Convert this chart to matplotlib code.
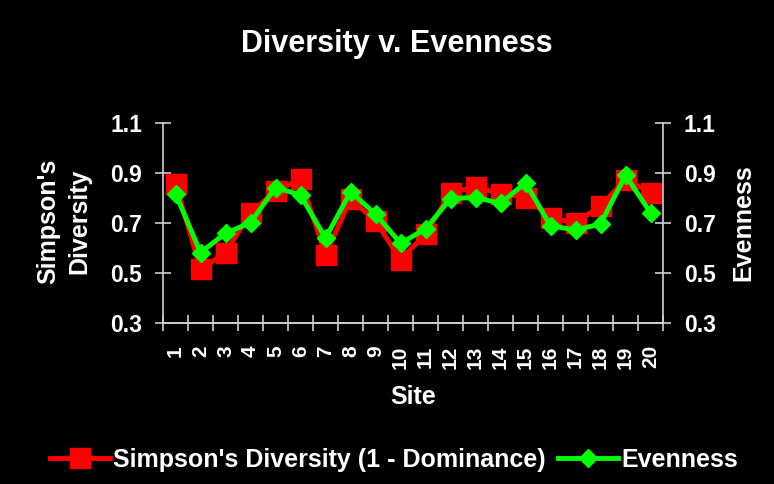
import matplotlib
matplotlib.use("Agg")
import matplotlib.pyplot as plt
from matplotlib.lines import Line2D

plt.rcParams['font.family'] = ['Liberation Sans', 'DejaVu Sans']
plt.rcParams['font.weight'] = 'bold'

sites = [str(i) for i in range(1, 21)]
simpson = [0.858, 0.515, 0.582, 0.741, 0.828, 0.877, 0.572, 0.795, 0.708, 0.553,
           0.656, 0.821, 0.845, 0.818, 0.802, 0.721, 0.701, 0.768, 0.874, 0.821]
evenness = [0.818, 0.582, 0.659, 0.701, 0.842, 0.812, 0.639, 0.825, 0.736, 0.619,
            0.676, 0.798, 0.802, 0.779, 0.861, 0.689, 0.672, 0.696, 0.891, 0.741]
y_ticks = [0.3, 0.5, 0.7, 0.9, 1.1]

axis_col = '#d0d0d0'
fig = plt.figure(figsize=(7.74, 4.84), dpi=100, facecolor='black')
ax = fig.add_axes([163/774, 1-323/484, 500/774, 200/484])
ax.set_facecolor('black')
ax2 = ax.twinx()

x = list(range(1, len(sites) + 1))
ax.plot(x, simpson, color='#ff0000', lw=3.5, marker='s', ms=14.5, mec='#ff0000', zorder=3)
ax2.plot(x, evenness, color='#00ff00', lw=3.5, marker='D', ms=9.5, mec='#00ff00', zorder=4)

for a in (ax, ax2):
    a.set_ylim(0.3, 1.1)
    a.set_yticks(y_ticks)
    a.set_yticklabels([f"{v:.1f}" for v in y_ticks])
    a.set_xlim(0.5, len(sites) + 0.5)
    for s in a.spines.values():
        s.set_color(axis_col)
        s.set_linewidth(1.2)
    a.spines['top'].set_visible(False)
ax.spines['right'].set_visible(False)
ax2.spines['left'].set_visible(False)

ax.tick_params(axis='y', direction='inout', length=11, width=1.2, color=axis_col,
               labelcolor='white', labelsize=16.5, pad=9.5)
ax2.tick_params(axis='y', direction='inout', length=11, width=1.2, color=axis_col,
                labelcolor='white', labelsize=16.5, pad=9.5)

ax.set_xticks(x)
ax.set_xticklabels(sites, rotation=90, va='top', ha='center')
ax.set_xticks([i + 0.5 for i in range(0, len(sites) + 1)], minor=True)
ax.tick_params(axis='x', which='major', length=0, labelcolor='white', labelsize=15, pad=16)
ax.tick_params(axis='x', which='minor', direction='inout', length=11, width=1.2, color=axis_col)

fig.text(397/774, 1-44/484, 'Diversity v. Evenness', color='white', fontsize=22,
         fontweight='bold', ha='center', va='center')
fig.text(413/774, 1-397/484, 'Site', color='white', fontsize=18, fontweight='bold',
         ha='center', va='center')
fig.text(64/774, 1-221/484, "Simpson's\nDiversity", color='white', fontsize=18,
         fontweight='bold', ha='center', va='center', rotation=90, linespacing=1.4,
         multialignment='center')
fig.text(743/774, 1-223/484, 'Evenness', color='white', fontsize=18,
         fontweight='bold', ha='center', va='center', rotation=90)

handles = [
    Line2D([], [], color='#ff0000', lw=3.5, marker='s', ms=14.5, mec='#ff0000'),
    Line2D([], [], color='#00ff00', lw=3.5, marker='D', ms=9.5, mec='#00ff00'),
]
leg = fig.legend(handles, ["Simpson's Diversity (1 - Dominance)", 'Evenness'],
                 loc='center', bbox_to_anchor=(394/774, 1-460/484), ncol=2,
                 frameon=False, fontsize=18, handlelength=2.4, handletextpad=0.12,
                 columnspacing=0.5, borderpad=0)
for t in leg.get_texts():
    t.set_color('white')
    t.set_fontweight('bold')

fig.savefig('out.png', dpi=100, facecolor='black')
